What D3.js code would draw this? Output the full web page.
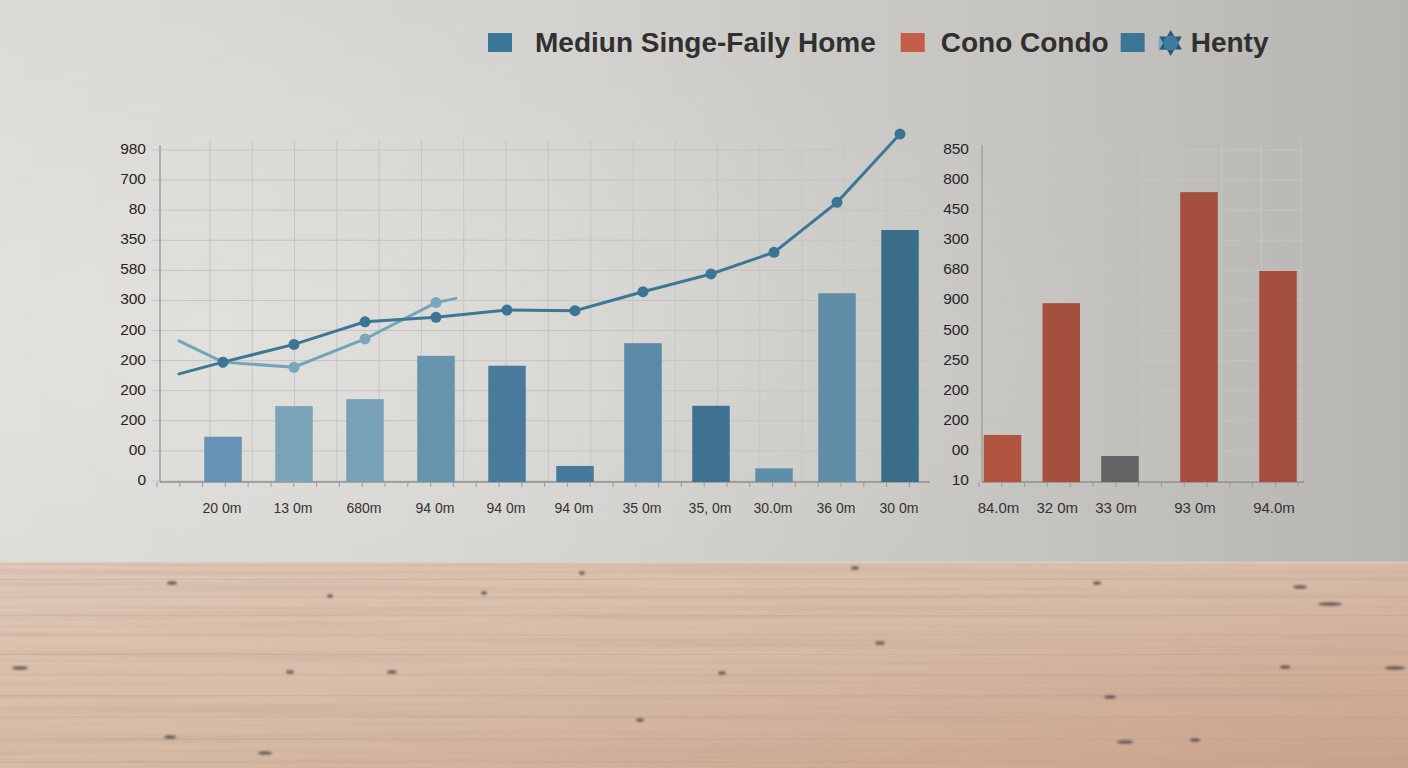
<!DOCTYPE html>
<html>
<head>
<meta charset="utf-8">
<script src="https://cdn.jsdelivr.net/npm/d3@7"></script>
<style>
  html, body { margin: 0; padding: 0; overflow: hidden; background: #d4d3cf; }
  svg { display: block; }
  .tick-label { font-family: 'Liberation Sans', Arial, sans-serif; font-size: 15.5px; fill: #252525; }
  .cat-label { font-family: 'Liberation Sans', Arial, sans-serif; fill: #333; }
  .legend-text { font-family: 'Liberation Sans', Arial, sans-serif; font-weight: bold; font-size: 28px; fill: #303030; }
</style>
</head>
<body>
<div id="wrapper"></div>
<script>
// Data (labels kept as printed)
const legendLabels = ['Mediun Singe-Faily Home', 'Cono Condo', 'Henty']

const tickValues = d3.range(0, 1200, 100)
const homeTickLabels = ['0', '00', '200', '200', '200', '200', '300', '580', '350', '80', '700', '980']
const condoTickLabels = ['10', '00', '200', '200', '250', '500', '900', '680', '300', '450', '800', '850']

const homeLabels = ['20 0m', '13 0m', '680m', '94 0m', '94 0m', '94 0m', '35 0m', '35, 0m', '30.0m', '36 0m', '30 0m']
const homeValues = [147, 249, 272, 416, 383, 50, 458, 250, 42, 624, 834]

// the two lines start a little before the first category
const trendSteps = [-0.62, 0, 1, 2, 3, 4, 5, 6, 7, 8, 9, 10]
const trendValues = [356, 395, 454, 529, 544, 568, 566, 629, 688, 760, 926, 1153]
const priorSteps = [-0.62, 0, 1, 2, 3, 3.28]
const priorValues = [466, 395, 378, 472, 593, 607]

const condoLabels = ['84.0m', '32 0m', '33 0m', '93 0m', '94.0m']
const condoValues = [153, 591, 83, 960, 698]

// Styles
const homeColors = ['#6892b5', '#7ba4b9', '#78a1b5', '#6695ad', '#497b9c', '#467a9c', '#5a8aa6', '#3e7192', '#5f8fa8', '#5f8ea6', '#3a6d87']
const condoColors = ['#b0543f', '#a54f3e', '#636365', '#a44e3d', '#a54f3e']

function drawChart() {
  const width = 1408
  const height = 768
  const horizon = 562

  const svg = d3.select('#wrapper')
    .append('svg')
    .attr('width', width)
    .attr('height', height)

  const defs = svg.append('defs')

  // Background: wall
  const wallGrad = defs.append('linearGradient').attr('id', 'wall')
  wallGrad.selectAll('stop')
    .data([['0%', '#dcdbd7'], ['40%', '#d3d2ce'], ['75%', '#c5c3bf'], ['100%', '#b7b5b1']])
    .enter().append('stop')
    .attr('offset', d => d[0])
    .attr('stop-color', d => d[1])

  const glow = defs.append('radialGradient').attr('id', 'glow')
    .attr('cx', 0.2).attr('cy', 0.6).attr('r', 0.6)
  glow.append('stop').attr('offset', '0%').attr('stop-color', '#ffffff').attr('stop-opacity', 0.22)
  glow.append('stop').attr('offset', '100%').attr('stop-color', '#ffffff').attr('stop-opacity', 0)

  svg.append('rect').attr('width', width).attr('height', horizon).attr('fill', 'url(#wall)')
  svg.append('rect').attr('width', width).attr('height', horizon).attr('fill', 'url(#glow)')

  // Background: wooden floor
  const floorGrad = defs.append('linearGradient').attr('id', 'floor')
    .attr('x1', 0).attr('y1', 0).attr('x2', 1).attr('y2', 1)
  floorGrad.selectAll('stop')
    .data([['0%', '#dec8b7'], ['50%', '#d7bba6'], ['100%', '#c9a28a']])
    .enter().append('stop')
    .attr('offset', d => d[0])
    .attr('stop-color', d => d[1])

  const grain = defs.append('filter').attr('id', 'grain')
    .attr('x', 0).attr('y', 0).attr('width', 1).attr('height', 1)
  grain.append('feTurbulence')
    .attr('type', 'fractalNoise')
    .attr('baseFrequency', '0.002 0.16')
    .attr('numOctaves', 4)
    .attr('seed', 7)
  grain.append('feColorMatrix')
    .attr('type', 'matrix')
    .attr('values', '0 0 0 0 0.5  0 0 0 0 0.36  0 0 0 0 0.28  1.6 0 0 0 -0.7')

  const knotBlur = defs.append('filter').attr('id', 'knot-blur')
  knotBlur.append('feGaussianBlur').attr('stdDeviation', 0.8)

  svg.append('rect').attr('y', horizon).attr('width', width).attr('height', height - horizon)
    .attr('fill', 'url(#floor)')
  svg.append('rect').attr('y', horizon).attr('width', width).attr('height', height - horizon)
    .attr('filter', 'url(#grain)').attr('opacity', 0.5)

  // plank seams, a bit wider apart towards the viewer
  svg.append('g').selectAll('line')
    .data(d3.range(1, 11))
    .enter().append('line')
    .attr('x1', 0).attr('x2', width)
    .attr('y1', k => horizon + 17 * k + 0.3 * k * k)
    .attr('y2', k => horizon + 17 * k + 0.3 * k * k)
    .attr('stroke', '#b0907b')
    .attr('stroke-opacity', 0.22)
    .attr('stroke-width', 1.2)

  // a few knots in the wood (texture only)
  const knots = [[172, 583, 5], [330, 596, 3], [484, 593, 3], [582, 573, 3], [855, 568, 4],
    [1097, 583, 4], [1300, 587, 7], [1330, 604, 12], [20, 668, 8], [290, 672, 4], [392, 672, 5],
    [722, 673, 4], [880, 643, 5], [1110, 697, 6], [1285, 667, 5], [1395, 668, 10], [170, 737, 6],
    [1125, 742, 8], [1195, 740, 5], [640, 720, 4], [265, 753, 7]]
  svg.append('g').attr('filter', 'url(#knot-blur)')
    .selectAll('ellipse')
    .data(knots)
    .enter().append('ellipse')
    .attr('cx', d => d[0]).attr('cy', d => d[1])
    .attr('rx', d => d[2]).attr('ry', 1.8)
    .attr('fill', '#4b4040')
    .attr('opacity', 0.75)

  svg.append('line').attr('x1', 0).attr('x2', width).attr('y1', horizon + 0.5).attr('y2', horizon + 0.5)
    .attr('stroke', '#e6d6c9').attr('stroke-width', 2).attr('opacity', 0.6)

  // Shared value scale
  const y = d3.scaleLinear().domain([0, 1100]).range([481, 150])
  const baseY = 482

  function drawFrame(g, left, right, gridFrom, gridTo, gridCount, labels, labelX) {
    g.append('g').selectAll('line')
      .data(tickValues)
      .enter().append('line')
      .attr('x1', left - 8).attr('x2', right)
      .attr('y1', d => y(d)).attr('y2', d => y(d))
      .attr('stroke', '#c4c4c2').attr('stroke-width', 1)

    const col = d3.scaleLinear().domain([0, gridCount - 1]).range([gridFrom, gridTo])
    g.append('g').selectAll('line')
      .data(d3.range(gridCount))
      .enter().append('line')
      .attr('x1', d => col(d)).attr('x2', d => col(d))
      .attr('y1', 140).attr('y2', baseY)
      .attr('stroke', '#c6c6c4').attr('stroke-width', 1)

    g.append('line').attr('x1', left).attr('x2', left).attr('y1', 145).attr('y2', baseY)
      .attr('stroke', '#a0a09e').attr('stroke-width', 1.5)
    g.append('line').attr('x1', left).attr('x2', right + 2).attr('y1', baseY).attr('y2', baseY)
      .attr('stroke', '#8f8f8e').attr('stroke-width', 1.5)

    g.append('g').selectAll('line')
      .data(d3.range(left - 3, right, 22.8))
      .enter().append('line')
      .attr('x1', d => d).attr('x2', d => d)
      .attr('y1', baseY).attr('y2', baseY + 5)
      .attr('stroke', '#9a9a98').attr('stroke-width', 1)

    g.append('g').selectAll('text')
      .data(tickValues)
      .enter().append('text')
      .attr('class', 'tick-label')
      .attr('x', labelX)
      .attr('y', d => y(d) + 4)
      .attr('text-anchor', 'end')
      .text((d, i) => labels[i])
  }

  // Left chart: single-family homes
  const home = svg.append('g')
  drawFrame(home, 160, 928, 210, 929, 18, homeTickLabels, 146)

  const homeX = d3.scaleLinear().domain([0, 4, 7, 10]).range([223, 507, 711, 900])
  const barW = 37.5

  home.append('g').selectAll('rect')
    .data(homeValues)
    .enter().append('rect')
    .attr('x', (d, i) => homeX(i) - barW / 2)
    .attr('y', d => y(d))
    .attr('width', barW)
    .attr('height', d => baseY - y(d))
    .attr('fill', (d, i) => homeColors[i])

  home.append('g').selectAll('text')
    .data(homeLabels)
    .enter().append('text')
    .attr('class', 'cat-label')
    .attr('font-size', 14)
    .attr('x', (d, i) => homeX(i) - 1)
    .attr('y', 513)
    .attr('text-anchor', 'middle')
    .text(d => d)

  const line = d3.line().x(d => homeX(d[0])).y(d => y(d[1]))
  const prior = d3.zip(priorSteps, priorValues)
  const trend = d3.zip(trendSteps, trendValues)

  home.append('path').datum(prior)
    .attr('d', line).attr('fill', 'none')
    .attr('stroke', '#74a4b8').attr('stroke-width', 3).attr('stroke-linecap', 'round')
  home.append('path').datum(trend)
    .attr('d', line).attr('fill', 'none')
    .attr('stroke', '#3c7896').attr('stroke-width', 3).attr('stroke-linecap', 'round')

  home.append('g').selectAll('circle')
    .data(prior.filter(d => Number.isInteger(d[0])))
    .enter().append('circle')
    .attr('cx', d => homeX(d[0])).attr('cy', d => y(d[1])).attr('r', 5.5)
    .attr('fill', '#79a7bb')
  home.append('g').selectAll('circle')
    .data(trend.filter(d => Number.isInteger(d[0])))
    .enter().append('circle')
    .attr('cx', d => homeX(d[0])).attr('cy', d => y(d[1])).attr('r', 5.5)
    .attr('fill', '#3a7593')

  // Right chart: condos
  const condo = svg.append('g')
  drawFrame(condo, 982, 1302, 1023, 1301, 8, condoTickLabels, 969)

  const condoX = d3.scaleLinear().domain([0, 2, 4]).range([1002.5, 1120, 1278])

  condo.append('g').selectAll('rect')
    .data(condoValues)
    .enter().append('rect')
    .attr('x', (d, i) => condoX(i) - barW / 2)
    .attr('y', d => y(d))
    .attr('width', barW)
    .attr('height', d => baseY - y(d))
    .attr('fill', (d, i) => condoColors[i])

  condo.append('g').selectAll('text')
    .data(condoLabels)
    .enter().append('text')
    .attr('class', 'cat-label')
    .attr('font-size', 15)
    .attr('x', (d, i) => condoX(i) - 4)
    .attr('y', 513)
    .attr('text-anchor', 'middle')
    .text(d => d)

  // Legend
  const legend = svg.append('g')
  let cursor = 488
  const swatch = (x, color) => legend.append('rect')
    .attr('x', x).attr('y', 33).attr('width', 24).attr('height', 19).attr('fill', color)
  const label = (x, text) => legend.append('text')
    .attr('class', 'legend-text').attr('x', x).attr('y', 52).text(text)

  swatch(cursor, '#3a7797')
  cursor += 24 + 23
  let t = label(cursor, legendLabels[0])
  cursor += t.node().getComputedTextLength() + 25
  swatch(cursor, '#c45e48')
  cursor += 24 + 16
  t = label(cursor, legendLabels[1])
  cursor += t.node().getComputedTextLength() + 12
  swatch(cursor, '#3a7797')
  cursor += 24 + 14

  // hexagram marker with a dot in the middle
  const starX = cursor + 12
  legend.append('rect').attr('x', cursor).attr('y', 37).attr('width', 13).attr('height', 13)
    .attr('fill', '#6aa3bf').attr('opacity', 0.85)
  const starPoints = d3.range(12).map(i => [i * Math.PI / 6, i % 2 ? 7.5 : 13])
  legend.append('path')
    .attr('transform', `translate(${starX},43)`)
    .attr('d', d3.lineRadial().angle(d => d[0]).radius(d => d[1]).curve(d3.curveLinearClosed)(starPoints))
    .attr('fill', '#285a73')
  legend.append('circle').attr('cx', starX).attr('cy', 43).attr('r', 7.5).attr('fill', '#3d7d9e')
  cursor += 32
  label(cursor, legendLabels[2])
}
drawChart()
</script>
</body>
</html>
